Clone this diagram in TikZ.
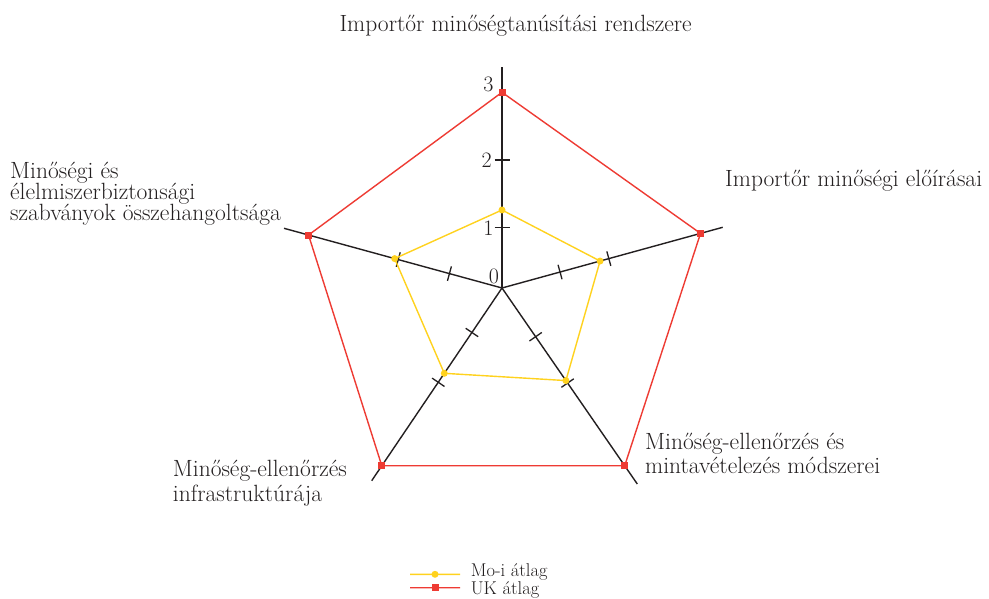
\documentclass[tikz,border=0pt]{standalone}
\usepackage{fontspec}
\usetikzlibrary{calc}
\definecolor{ygold}{HTML}{FFD21E}
\definecolor{rred}{HTML}{EE3B33}
\definecolor{ink}{HTML}{231F20}
\begin{document}
\begin{tikzpicture}[x=1pt,y=-1pt,
  axis/.style={ink, line width=1.4pt},
  tickmark/.style={ink, line width=1.3pt},
  uk/.style={draw=rred, line width=1.4pt},
  mo/.style={draw=ygold, line width=1.4pt},
  redmark/.style={rectangle, fill=rred, inner sep=0pt, minimum size=7pt},
  yelmark/.style={circle, fill=ygold, inner sep=0pt, minimum size=7pt},
  lbl/.style={inner sep=0pt, text=ink, font=\fontsize{23.5}{23.5}\selectfont, align=left},
  num/.style={inner sep=0pt, text=ink, font=\fontsize{22}{23}\selectfont},
  leg/.style={inner sep=0pt, text=ink, font=\fontsize{18.5}{19}\selectfont},
]
\useasboundingbox[fill=white] (0,0) rectangle (989,599);
\coordinate (C) at (502,288);
\coordinate (E1) at (502,67);
\coordinate (E2) at (722.7,227.3);
\coordinate (E3) at (637.3,484);
\coordinate (E4) at (371.7,480.7);
\coordinate (E5) at (284,228.3);
\foreach \i in {1,...,5} \draw[axis] (C) -- (E\i);
\foreach \i/\d in {1/60.3,1/128,2/60.2,2/110.8,3/59.2,3/115.5,4/53.7,4/113.8,5/54.5,5/107.6}{
  \coordinate (T) at ($(C)!\d pt!(E\i)$);
  \draw[tickmark] ($(T)!7.5pt!90:(E\i)$) -- ($(T)!7.5pt!-90:(E\i)$);
}
% data points
\foreach \i/\r/\y in {1/195.7/78,2/205.9/101.7,3/216/112.5,4/214.6/103,5/200.6/111.3}{
  \coordinate (R\i) at ($(C)!\r pt!(E\i)$);
  \coordinate (Y\i) at ($(C)!\y pt!(E\i)$);
}
\draw[uk] (R1) -- (R2) -- (R3) -- (R4) -- (R5) -- cycle;
\draw[mo] (Y1) -- (Y2) -- (Y3) -- (Y4) -- (Y5) -- cycle;
\foreach \i in {1,...,5}{
  \node[redmark] (r\i) at (R\i) {};
  \node[yelmark] (y\i) at (Y\i) {};
}
% scale numbers
\node[num] (n3) at (488.3,84) {3};
\node[num] (n2) at (486.7,160) {2};
\node[num] (n1) at (488.3,228.3) {1};
\node[num] (n0) at (494,276.7) {0};
% axis labels
\node[lbl, anchor=base west] (l1) at (339.3,31.7) {Importőr minőségtanúsítási rendszere};
\node[lbl, anchor=base west] (l2) at (725,187) {Importőr minőségi előírásai};
\node[lbl, anchor=base west, font=\fontsize{23.5}{23.5}\selectfont] (l3) at (645,473) {Minőség-ellenőrzés és\\mintavételezés módszerei};
\node[lbl, anchor=base west, font=\fontsize{23.5}{24.5}\selectfont] (l4) at (172.7,501) {Minőség-ellenőrzés\\infrastruktúrája};
\node[lbl, anchor=base west, font=\fontsize{23.5}{21.5}\selectfont] (l5) at (10,221) {Minőségi és\\élelmiszerbiztonsági\\szabványok összehangoltsága};
% legend
\coordinate (LY1) at (410,574.3);
\coordinate (LY2) at (460,574.3);
\coordinate (LR1) at (410,587.7);
\coordinate (LR2) at (460,587.7);
\node[yelmark] (ly) at ($(LY1)!0.5!(LY2)$) {};
\node[redmark] (lr) at ($(LR1)!0.5!(LR2)$) {};
\draw[mo] (LY1) -- (ly.center) -- (LY2);
\draw[uk] (LR1) -- (lr.center) -- (LR2);
\node[leg, anchor=base west] (lt1) at (470.7,576) {Mo-i átlag};
\node[leg, anchor=base west] (lt2) at (470.7,594.5) {UK átlag};
\end{tikzpicture}
\end{document}
